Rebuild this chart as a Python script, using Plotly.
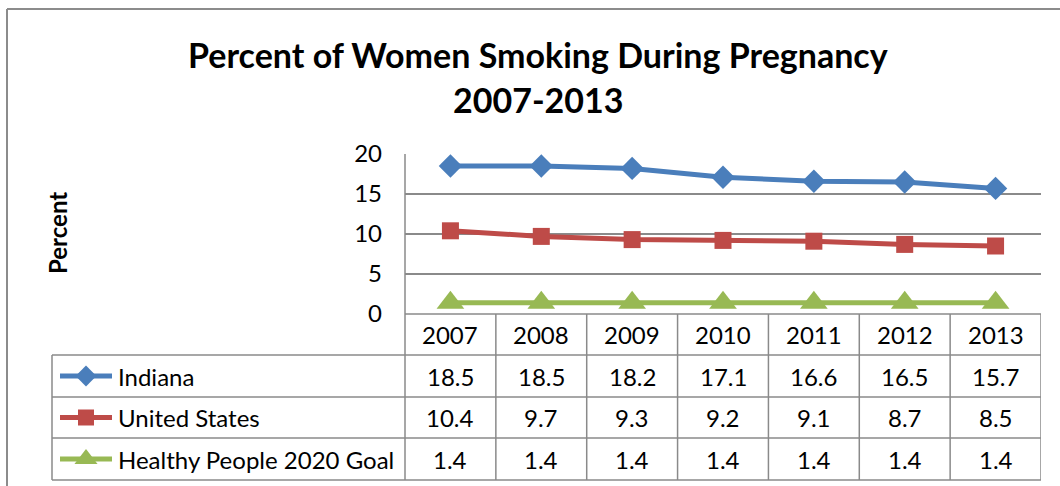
import plotly.graph_objects as go

# Data
years = ["2007", "2008", "2009", "2010", "2011", "2012", "2013"]
indiana = [18.5, 18.5, 18.2, 17.1, 16.6, 16.5, 15.7]
united_states = [10.4, 9.7, 9.3, 9.2, 9.1, 8.7, 8.5]
hp2020_goal = [1.4, 1.4, 1.4, 1.4, 1.4, 1.4, 1.4]
series_names = ["Indiana", "United States", "Healthy People 2020 Goal"]

W, H = 1060, 486
FONT = "Lato"
GRID = "#8a8a8a"
BLUE, RED, GREEN = "#4a7ebb", "#be4b48", "#98b954"
TXT = 24

# Layout geometry (pixels)
PLOT_L, PLOT_R = 405, 1041
PLOT_T, PLOT_B = 154, 314
ROW_EDGES = [314, 355, 397, 438, 480]
TABLE_L = 52


def px(x):
    return x / W


def py(y):
    return 1 - y / H


idx = list(range(len(years)))
# name, values, colour, symbol, plot marker size, key marker size
series = [
    (series_names[0], indiana, BLUE, "diamond", 18, 16),
    (series_names[1], united_states, RED, "square", 17, 16),
    (series_names[2], hp2020_goal, GREEN, "triangle-up", 24, 20),
]

fig = go.Figure()
for name, vals, color, sym, size, _ in series:
    fig.add_trace(go.Scatter(
        x=idx, y=vals, mode="lines+markers", name=name,
        line=dict(color=color, width=5),
        marker=dict(symbol=sym, size=size, color=color, line=dict(width=0)),
        cliponaxis=False, showlegend=False, hoverinfo="x+y",
    ))

shapes = []
line_style = dict(color=GRID, width=1.5)

# Outer chart border (top and left)
shapes.append(dict(type="line", xref="paper", yref="paper",
                   x0=px(7), x1=px(W + 5), y0=py(9), y1=py(9),
                   line=dict(color="#8c8c8c", width=2)))
shapes.append(dict(type="line", xref="paper", yref="paper",
                   x0=px(7), x1=px(7), y0=py(9), y1=py(H + 5),
                   line=dict(color="#8c8c8c", width=2)))

# Data table horizontal rules
for i, y in enumerate(ROW_EDGES):
    x0 = PLOT_L if i == 0 else TABLE_L
    shapes.append(dict(type="line", xref="paper", yref="paper",
                       x0=px(x0), x1=px(PLOT_R), y0=py(y), y1=py(y),
                       line=line_style))
# Left edge of legend column
shapes.append(dict(type="line", xref="paper", yref="paper",
                   x0=px(TABLE_L), x1=px(TABLE_L),
                   y0=py(ROW_EDGES[1]), y1=py(ROW_EDGES[-1]), line=line_style))
# Value axis line continuing down through the table
shapes.append(dict(type="line", xref="paper", yref="paper",
                   x0=px(PLOT_L), x1=px(PLOT_L),
                   y0=py(PLOT_T), y1=py(ROW_EDGES[-1]), line=line_style))
# Column separators between years
for k in idx:
    shapes.append(dict(type="line", xref="x", yref="paper",
                       x0=k + 0.5, x1=k + 0.5,
                       y0=py(ROW_EDGES[0]), y1=py(ROW_EDGES[-1]),
                       line=line_style))

annotations = []
# Chart title
for text, yy in [("<b>Percent of Women Smoking During Pregnancy</b>", 54),
                 ("<b>2007-2013</b>", 100)]:
    annotations.append(dict(
        text=text, xref="paper", yref="paper", x=px(538), y=py(yy),
        showarrow=False, xanchor="center", yanchor="middle",
        font=dict(family=FONT, size=34, color="#000")))
# Value axis title
annotations.append(dict(
    text="<b>Percent</b>", textangle=-90,
    xref="paper", yref="paper", x=px(57), y=py(233), showarrow=False,
    xanchor="center", yanchor="middle",
    font=dict(family=FONT, size=24, color="#000")))

# Table header: years
hdr_y = (ROW_EDGES[0] + ROW_EDGES[1]) / 2
for k, yr in zip(idx, years):
    annotations.append(dict(text=yr, xref="x", yref="paper", x=k, y=py(hdr_y),
                            showarrow=False, xanchor="center", yanchor="middle",
                            font=dict(family=FONT, size=TXT, color="#000")))

# Table body: legend keys, names and values
for r, (name, vals, color, sym, _, key_size) in enumerate(series):
    yc = (ROW_EDGES[r + 1] + ROW_EDGES[r + 2]) / 2
    fig.add_trace(go.Scatter(
        x=[60, 86, 112], y=[yc, yc, yc], xaxis="x2", yaxis="y2",
        mode="lines", line=dict(color=color, width=5),
        showlegend=False, hoverinfo="skip", cliponaxis=False))
    fig.add_trace(go.Scatter(
        x=[86], y=[yc], xaxis="x2", yaxis="y2", mode="markers",
        marker=dict(symbol=sym, size=key_size, color=color, line=dict(width=0)),
        showlegend=False, hoverinfo="skip", cliponaxis=False))
    annotations.append(dict(text=name, xref="paper", yref="paper",
                            x=px(116), y=py(yc), showarrow=False,
                            xanchor="left", yanchor="middle",
                            font=dict(family=FONT, size=TXT, color="#000")))
    for k, v in zip(idx, vals):
        annotations.append(dict(text=f"{v:.1f}", xref="x", yref="paper",
                                x=k, y=py(yc), showarrow=False,
                                xanchor="center", yanchor="middle",
                                font=dict(family=FONT, size=TXT, color="#000")))

fig.update_layout(
    width=W, height=H, autosize=False,
    margin=dict(l=0, r=0, t=0, b=0, pad=0),
    paper_bgcolor="white", plot_bgcolor="rgba(0,0,0,0)",
    showlegend=False,
    xaxis=dict(domain=[px(PLOT_L), px(PLOT_R)], range=[-0.5, 6.5],
               showgrid=False, zeroline=False, showticklabels=False,
               ticks="", showline=False, fixedrange=True, automargin=False),
    yaxis=dict(domain=[py(PLOT_B), py(PLOT_T)], range=[0, 20],
               tickvals=[0, 5, 10, 15, 20], showgrid=True,
               gridcolor=GRID, gridwidth=1.5, zeroline=False,
               showline=False, ticks="", ticklabelstandoff=22,
               tickfont=dict(family=FONT, size=TXT, color="#000"),
               fixedrange=True, automargin=False),
    xaxis2=dict(domain=[0, 1], range=[0, W], visible=False, anchor="y2",
                fixedrange=True, automargin=False),
    yaxis2=dict(domain=[0, 1], range=[H, 0], visible=False, anchor="x2",
                fixedrange=True, automargin=False),
    shapes=shapes,
    annotations=annotations,
)

fig.write_html("out.html")
